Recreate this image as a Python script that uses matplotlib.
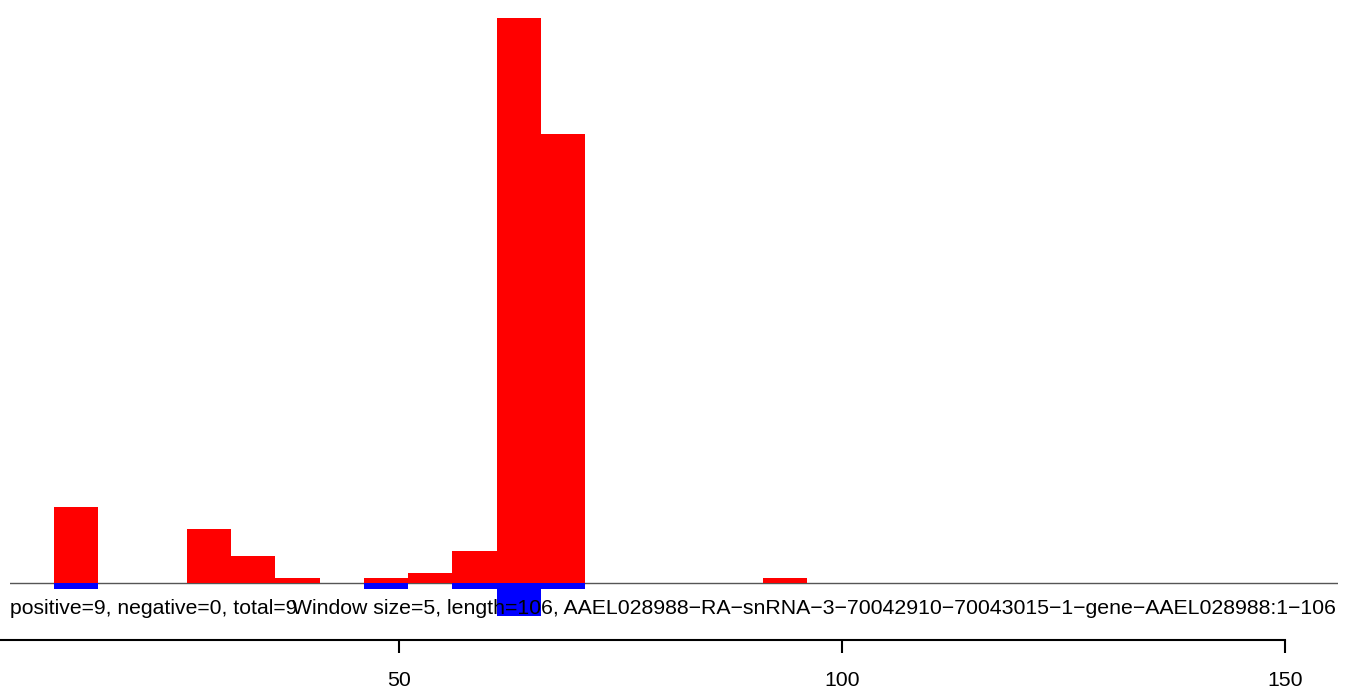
import matplotlib
matplotlib.use("Agg")
import matplotlib.pyplot as plt
import matplotlib.transforms as mtransforms

# ---- data ----
pos_starts = [11, 26, 31, 36, 46, 51, 56, 61, 66, 91]
pos_values = [14.2, 10.0, 5.0, 0.95, 0.95, 1.9, 6.0, 105.0, 83.5, 0.95]
neg_starts = [11, 46, 56, 61, 66]
neg_values = [1.05, 1.05, 1.05, 6.1, 1.05]
window = 5
x_ticks = [50, 100, 150]
left_label = "positive=9, negative=0, total=9"
right_label = ("Window size=5, length=106, AAEL028988\u2212RA\u2212snRNA\u22123\u221270042910"
               "\u221270043015\u22121\u2212gene\u2212AAEL028988:1\u2212106")

W, H = 1361, 691
fig = plt.figure(figsize=(W / 100, H / 100), dpi=100)
fig.patch.set_facecolor("white")
plt.rcParams["font.family"] = ["Liberation Sans", "DejaVu Sans"]

# main plot region (pixel-derived layout)
px_per_unit_x = 443.0 / 50
x0_px = 399.3 - 50 * px_per_unit_x
left_px, right_px = 10, 1338
xl = ((left_px - x0_px) / px_per_unit_x, (right_px - x0_px) / px_per_unit_x)
base_px = 583.0
py = 5.378
yl = ((base_px - H) / py, base_px / py)

ax = fig.add_axes([left_px / W, 0, (right_px - left_px) / W, 1])
ax.set_xlim(*xl)
ax.set_ylim(*yl)
ax.axis("off")

ax.axhline(0, color="#555555", lw=1.0, zorder=1)
ax.bar(pos_starts, pos_values, width=window, align="edge", color="#FF0000",
       linewidth=0, zorder=2)
ax.bar(neg_starts, [-v for v in neg_values], width=window, align="edge",
       color="#0000FF", linewidth=0, zorder=3)

FS = 15.3
trans = mtransforms.blended_transform_factory(ax.transAxes, ax.transData)
ty = (base_px - 608) / py
ax.text(0, ty, left_label, transform=trans, ha="left", va="center",
        fontsize=15.25, color="black", zorder=4)
ax.text(0.9985, ty, right_label, transform=trans, ha="right", va="center",
        fontsize=15.35, color="black", zorder=4)

# bottom axis
axis_px = 640
ax2 = fig.add_axes([0, (H - axis_px) / H, 1, 0.001])
ax2.set_xlim((0 - x0_px) / px_per_unit_x, (W - x0_px) / px_per_unit_x)
ax2.patch.set_visible(False)
for s in ["top", "left", "right"]:
    ax2.spines[s].set_visible(False)
ax2.spines["bottom"].set_linewidth(1.5)
ax2.spines["bottom"].set_bounds(0, 150)
ax2.set_yticks([])
ax2.set_xticks(x_ticks)
ax2.set_xticklabels([str(t) for t in x_ticks])
ax2.tick_params(axis="x", direction="out", length=9.5, width=1.5, pad=12.5,
                labelsize=FS)

fig.savefig("out.png", dpi=100)
